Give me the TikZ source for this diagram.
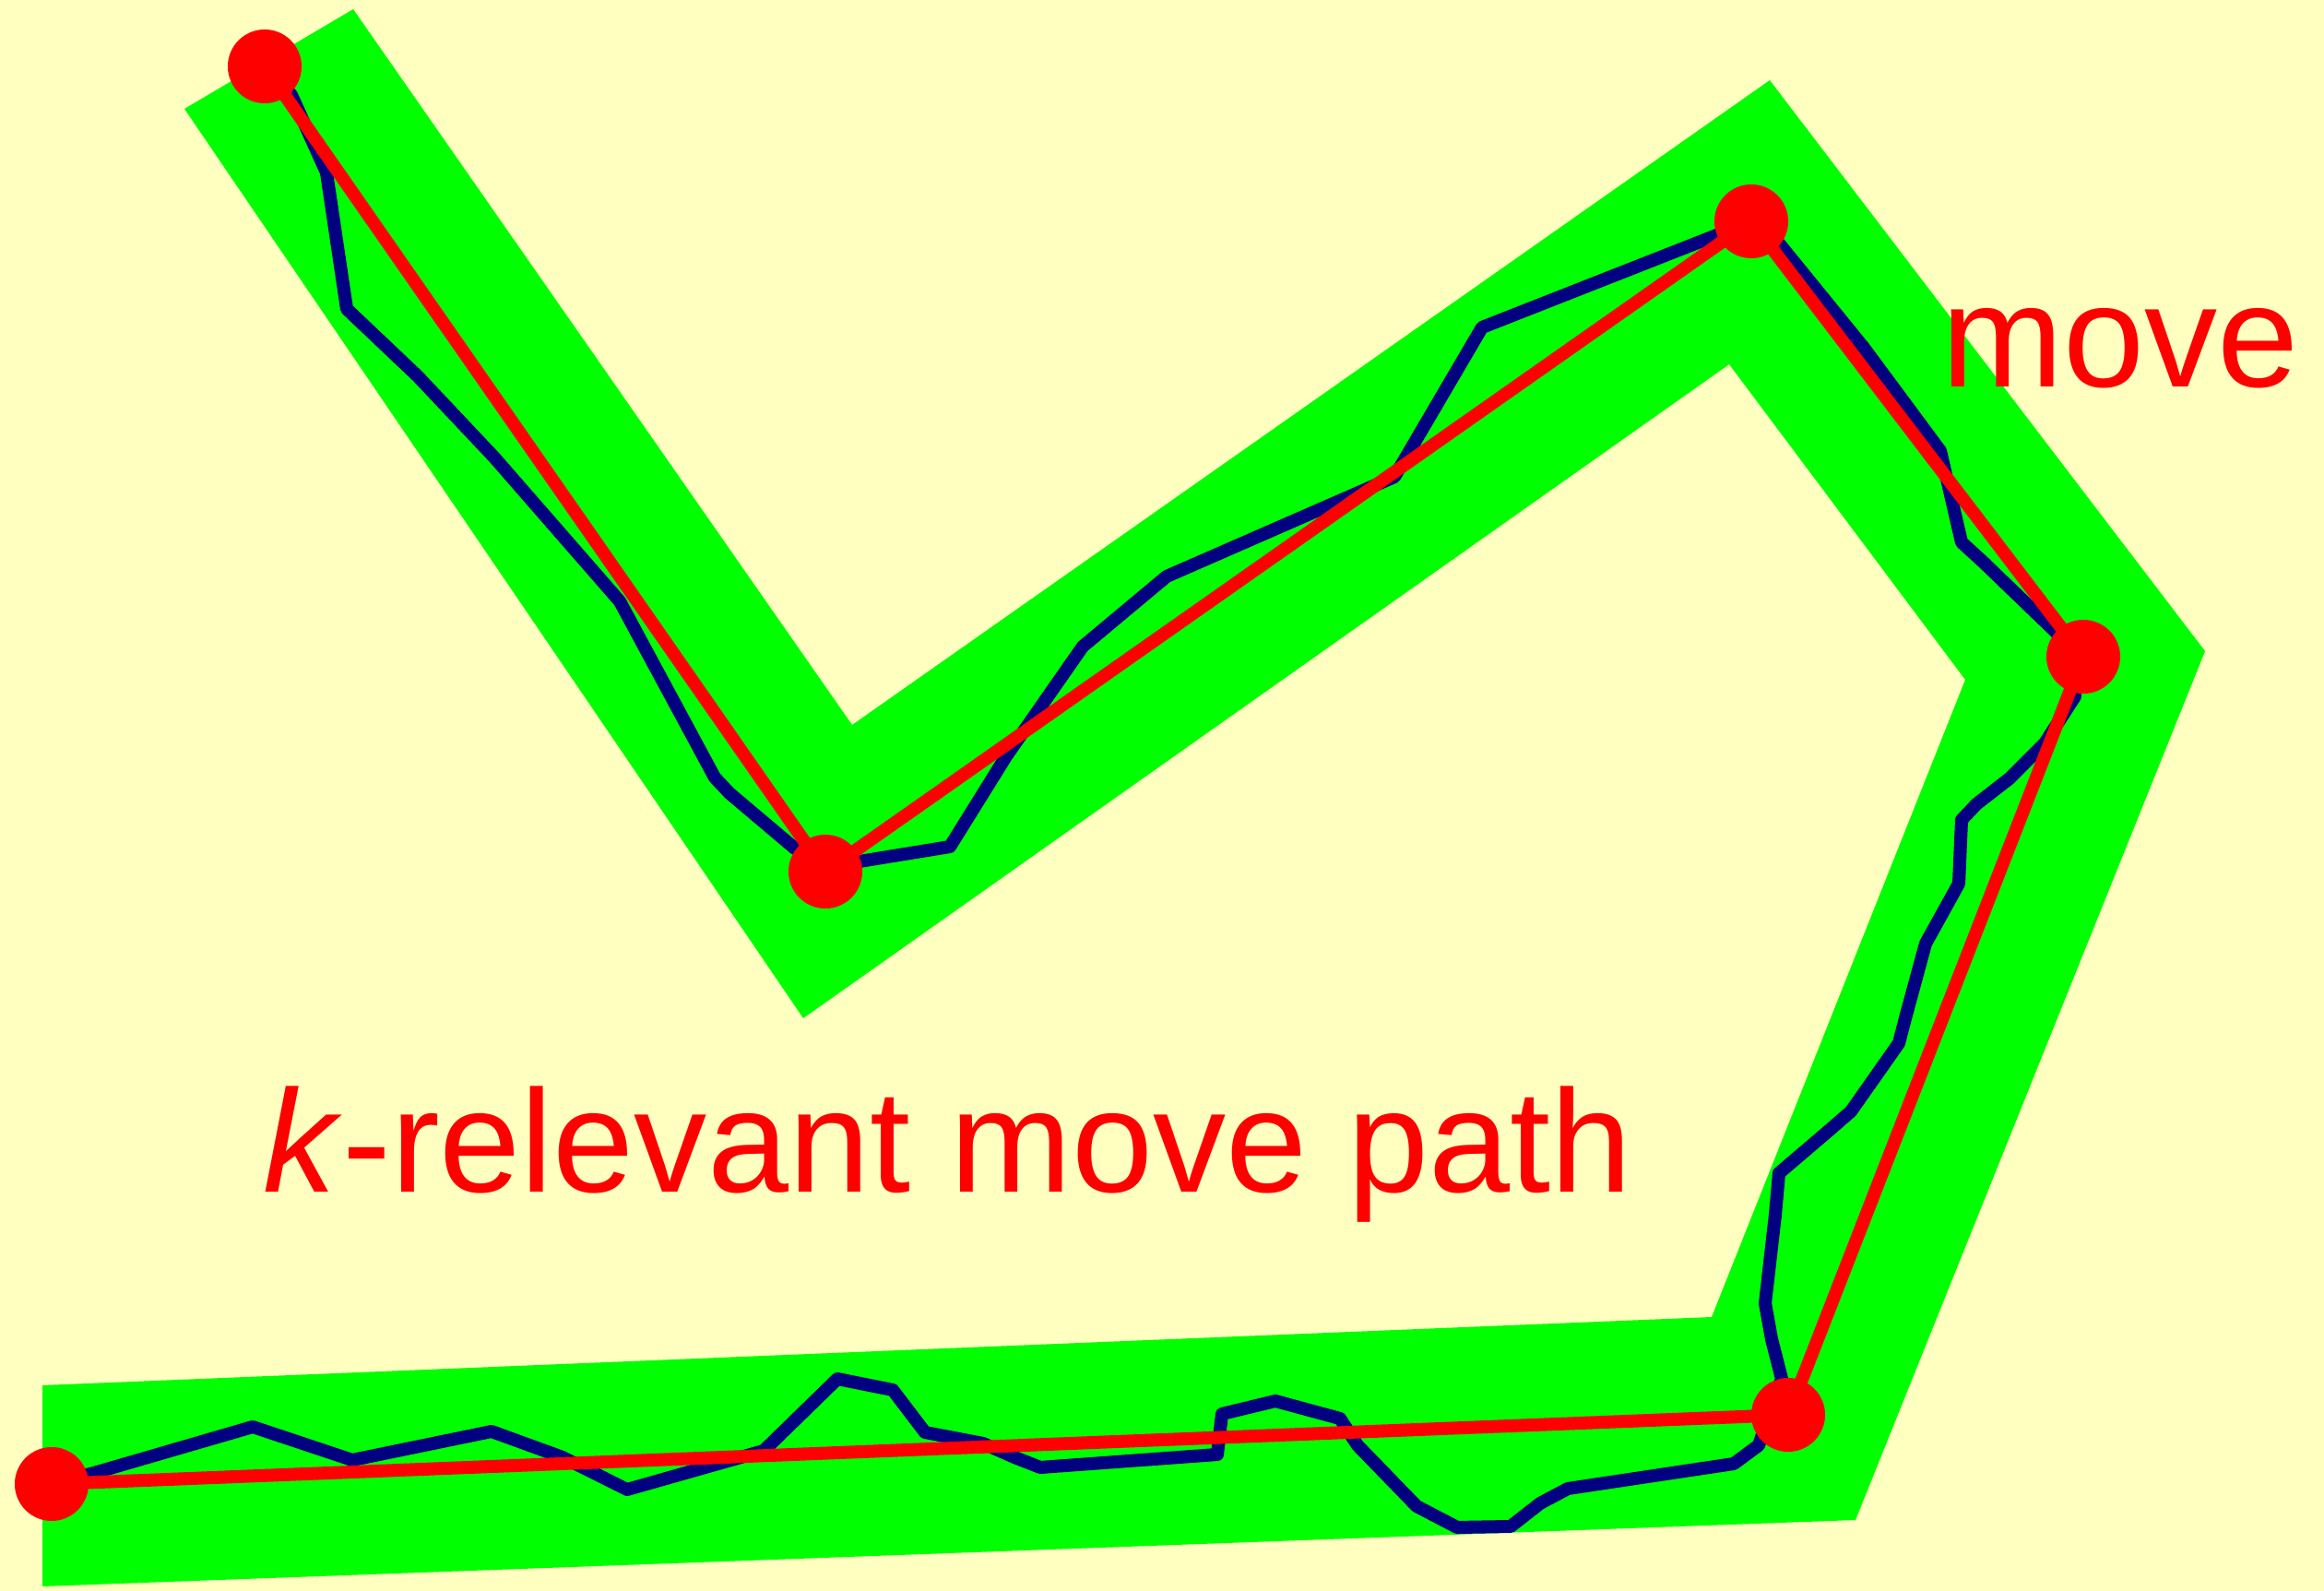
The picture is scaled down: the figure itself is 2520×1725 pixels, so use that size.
\documentclass[tikz,border=0pt]{standalone}
\usepackage{fontspec}
\setmainfont{Liberation Sans}
\definecolor{paper}{RGB}{255,255,192}
\definecolor{band}{RGB}{0,255,0}
\definecolor{track}{RGB}{0,0,128}
\definecolor{hot}{RGB}{255,0,0}
\pgfdeclarelayer{under}
\pgfsetlayers{under,main}
\begin{document}
\begin{tikzpicture}[x=0.01cm,y=-0.01cm,
  dot/.style={circle,fill=hot,inner sep=0pt,minimum size=0.8cm},
  caption/.style={text=hot,font=\fontsize{45}{54}\selectfont,inner sep=0pt,anchor=base west},
  moveseg/.style={draw=hot,line width=4pt,line join=round,line cap=round},
  trackline/.style={draw=track,line width=4pt,line join=round,line cap=round}]
\useasboundingbox (0,0) rectangle (2520,1725);

% waypoints of the move
\node[dot] (p1) at (287,72) {};
\node[dot] (p2) at (895,945) {};
\node[dot] (p3) at (1899,240) {};
\node[dot] (p4) at (2259,712) {};
\node[dot] (p5) at (1939,1534) {};
\node[dot] (p6) at (56,1609) {};

\begin{pgfonlayer}{under}
  \fill[paper] (0,0) rectangle (2520,1725);
  % tolerance corridor around the move path
  \fill[band] (46,1720) -- (46,1502) -- (1856,1428) -- (2131,737) -- (1875,395)
    -- (871,1104) -- (200,118) -- (383,10) -- (924,786) -- (1919,87)
    -- (2391,706) -- (2012,1648) -- cycle;
  % actual trajectory
  \draw[trackline] (p1.center) -- (316,103) -- (354,187) -- (376,335) -- (453,408)
    -- (536,496) -- (672,652) -- (775,843) -- (791,860) -- (862,920)
    -- (932,934) -- (1030,918) -- (1091,820) -- (1174,701) -- (1265,625)
    -- (1512,517) -- (1607,355) -- (1864,254)
    -- (1929,264) -- (2021,377) -- (2104,489) -- (2127,588) -- (2150,609)
    -- (2232,688)
    -- (2250,755) -- (2217,806) -- (2179,844) -- (2143,872) -- (2127,889)
    -- (2124,958) -- (2088,1023) -- (2066,1104) -- (2059,1131) -- (2007,1205)
    -- (1984,1225) -- (1929,1272) -- (1925,1317) -- (1914,1413) -- (1921,1452)
    -- (1932,1495)
    -- (1907,1567) -- (1880,1587) -- (1700,1614) -- (1670,1630) -- (1638,1655)
    -- (1580,1656) -- (1536,1633) -- (1504,1600) -- (1472,1567) -- (1453,1538)
    -- (1383,1519) -- (1325,1533) -- (1320,1577) -- (1128,1591) -- (1100,1580)
    -- (1066,1565) -- (1003,1553) -- (968,1507) -- (908,1495) -- (828,1573)
    -- (680,1615) -- (610,1580) -- (533,1552) -- (382,1583) -- (274,1547)
    -- (102,1597) -- (p6.center);
  % straight move segments
  \draw[moveseg] (p1.center) -- (p2.center) -- (p3.center) -- (p4.center)
    -- (p5.center) -- (p6.center);
\end{pgfonlayer}

\node[caption] (lmove) at (2105,420) {move};
\node[caption] (lpath) at (285,1292) {\textit{k}-relevant move path};
\end{tikzpicture}
\end{document}
